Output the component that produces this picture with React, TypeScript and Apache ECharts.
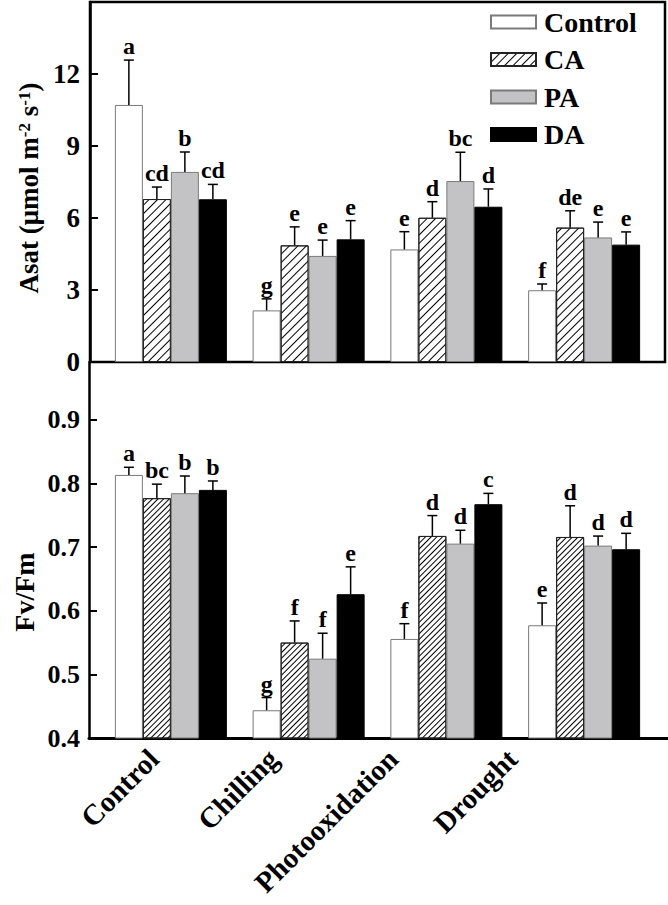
import React, { useEffect, useRef } from 'react';
import * as echarts from 'echarts';

const categories = ['Control', 'Chilling', 'Photooxidation', 'Drought'];
const seriesNames = ['Control', 'CA', 'PA', 'DA'];

// Asat (top panel)
const asatControl = [10.71, 2.15, 4.69, 2.99];
const asatCA = [6.79, 4.86, 6.01, 5.6];
const asatPA = [7.92, 4.42, 7.54, 5.19];
const asatDA = [6.78, 5.11, 6.47, 4.89];
const asatErrControl = [1.87, 0.48, 0.74, 0.26];
const asatErrCA = [0.5, 0.77, 0.67, 0.7];
const asatErrPA = [0.83, 0.66, 1.2, 0.64];
const asatErrDA = [0.62, 0.78, 0.74, 0.53];
const asatLetControl = ['a', 'g', 'e', 'f'];
const asatLetCA = ['cd', 'e', 'd', 'de'];
const asatLetPA = ['b', 'e', 'bc', 'e'];
const asatLetDA = ['cd', 'e', 'd', 'e'];

// Fv/Fm (bottom panel)
const fvControl = [0.8135, 0.4436, 0.5557, 0.5772];
const fvCA = [0.777, 0.55, 0.7176, 0.716];
const fvPA = [0.7848, 0.5247, 0.7055, 0.7024];
const fvDA = [0.79, 0.626, 0.7675, 0.6967];
const fvErrControl = [0.012, 0.02, 0.024, 0.035];
const fvErrCA = [0.022, 0.034, 0.032, 0.049];
const fvErrPA = [0.027, 0.04, 0.021, 0.015];
const fvErrDA = [0.014, 0.043, 0.017, 0.025];
const fvLetControl = ['a', 'g', 'f', 'e'];
const fvLetCA = ['bc', 'f', 'd', 'd'];
const fvLetPA = ['b', 'f', 'd', 'd'];
const fvLetDA = ['b', 'e', 'c', 'd'];

const asatAxis = { min: 0, max: 15, interval: 3 };
const fvAxis = { min: 0.4, max: 0.991, interval: 0.1 };

const FONT = '"Liberation Serif", "Times New Roman", serif';
const BAR_W = 28;

const fills = ['#ffffff', '#ffffff', '#c3c3c5', '#000000'];
const borders = ['#7a7a7a', '#222222', '#7a7a7a', '#000000'];

function hatch(gap: number) {
  return {
    symbol: 'rect',
    symbolSize: 1,
    color: '#000',
    dashArrayX: [1, 0],
    dashArrayY: [0.9, gap],
    rotation: -Math.PI / 4,
  };
}

function barSeries(values: number[][], axisIdx: number, gap: number) {
  return values.map((v, s) => ({
    type: 'bar',
    name: seriesNames[s],
    xAxisIndex: axisIdx,
    yAxisIndex: axisIdx,
    data: v,
    barWidth: BAR_W,
    barGap: '0%',
    silent: true,
    itemStyle: {
      color: fills[s],
      borderColor: borders[s],
      borderWidth: 1,
      decal: s === 1 ? hatch(gap) : undefined,
    },
  }));
}

function errSeries(means: number[][], errs: number[][], letters: string[][], axisIdx: number) {
  const data: number[][] = [];
  for (let s = 0; s < 4; s++) {
    for (let c = 0; c < 4; c++) {
      data.push([c, means[s][c], means[s][c] + errs[s][c], s]);
    }
  }
  return {
    type: 'custom',
    xAxisIndex: axisIdx,
    yAxisIndex: axisIdx,
    z: 10,
    silent: true,
    clip: false,
    encode: { x: 0, y: [1, 2] },
    data,
    renderItem: (params: any, api: any) => {
      const c = api.value(0);
      const mean = api.value(1);
      const top = api.value(2);
      const s = api.value(3);
      const p0 = api.coord([c, mean]);
      const p1 = api.coord([c, top]);
      const x = p0[0] + (s - 1.5) * BAR_W;
      return {
        type: 'group',
        children: [
          { type: 'line', shape: { x1: x, y1: p0[1], x2: x, y2: p1[1] }, style: { stroke: '#000', lineWidth: 1.5 } },
          { type: 'line', shape: { x1: x - 5, y1: p1[1], x2: x + 5, y2: p1[1] }, style: { stroke: '#000', lineWidth: 1.5 } },
          {
            type: 'text',
            x,
            y: p1[1] - 2,
            style: {
              text: letters[s][c],
              align: 'center',
              verticalAlign: 'bottom',
              font: `bold 24px ${FONT}`,
              fill: '#000',
            },
          },
        ],
      };
    },
  };
}

export default function App() {
  const ref = useRef<HTMLDivElement>(null);
  useEffect(() => {
    if (!ref.current) return;
    const chart = echarts.init(ref.current, undefined, { renderer: 'svg' });
    const tickLabel = { color: '#000', fontFamily: FONT, fontWeight: 'bold', fontSize: 26 };
    const hiddenCat = { type: 'category', data: categories, show: false };
    const hiddenVal = (ax: any) => ({ type: 'value', ...ax, show: false, splitLine: { show: false } });
    chart.setOption({
      animation: false,
      backgroundColor: '#fff',
      grid: [
        { left: 90, top: 2, width: 575, height: 360, show: true, borderColor: '#000', borderWidth: 2.5, backgroundColor: 'transparent' },
        { left: 102, top: 2, width: 551, height: 360 },
        { left: 89, top: 362, width: 600, height: 376 },
        { left: 102, top: 362, width: 551, height: 376 },
        { left: 94, top: 362, width: 478, height: 376 },
      ],
      xAxis: [
        { ...hiddenCat, gridIndex: 0 },
        { ...hiddenCat, gridIndex: 1 },
        {
          type: 'category', data: categories, gridIndex: 2,
          axisLine: { show: true, onZero: false, lineStyle: { color: '#000', width: 3 } },
          axisTick: { show: false }, axisLabel: { show: false },
        },
        { ...hiddenCat, gridIndex: 3 },
        {
          type: 'category', data: categories, gridIndex: 4,
          axisLine: { show: false }, axisTick: { show: false },
          axisLabel: { ...tickLabel, fontSize: 29, rotate: 45, margin: 16, interval: 0 },
        },
      ],
      yAxis: [
        {
          type: 'value', gridIndex: 0, ...asatAxis,
          axisLine: { show: true, lineStyle: { color: '#000', width: 2.5 } },
          axisTick: { show: true, inside: true, length: 8, lineStyle: { color: '#000', width: 2 } },
          axisLabel: { ...tickLabel, fontSize: 27, margin: 10, showMaxLabel: false },
          splitLine: { show: false },
        },
        { ...hiddenVal(asatAxis), gridIndex: 1 },
        {
          type: 'value', gridIndex: 2, ...fvAxis,
          axisLine: { show: true, lineStyle: { color: '#000', width: 2.5 } },
          axisTick: { show: true, inside: true, length: 8, lineStyle: { color: '#000', width: 2 } },
          axisLabel: { ...tickLabel, margin: 9, showMaxLabel: false, formatter: (v: number) => v.toFixed(1) },
          splitLine: { show: false },
        },
        { ...hiddenVal(fvAxis), gridIndex: 3 },
        { type: 'value', gridIndex: 4, show: false, splitLine: { show: false } },
      ],
      legend: {
        data: seriesNames,
        orient: 'vertical',
        left: 490,
        top: 8,
        padding: 0,
        itemWidth: 45,
        itemHeight: 13,
        itemGap: 9.5,
        icon: 'rect',
        selectedMode: false,
        textStyle: { color: '#000', fontFamily: FONT, fontWeight: 'bold', fontSize: 28, padding: [0, 0, 0, 3], lineHeight: 25 },
      },
      graphic: [
        {
          type: 'text',
          x: 29,
          y: 188,
          rotation: Math.PI / 2,
          style: {
            text: 'Asat (μmol m{sup|-2} s{sup|-1})',
            font: `bold 27px ${FONT}`,
            fill: '#000',
            align: 'center',
            verticalAlign: 'middle',
            rich: {
              sup: { fontSize: 17, fontWeight: 'bold', fontFamily: FONT, verticalAlign: 'top', fill: '#000' },
            },
          },
        },
        {
          type: 'text',
          x: 24,
          y: 592,
          rotation: Math.PI / 2,
          style: {
            text: 'Fv/Fm',
            font: `bold 28px ${FONT}`,
            fill: '#000',
            align: 'center',
            verticalAlign: 'middle',
          },
        },
      ],
      series: [
        ...barSeries([asatControl, asatCA, asatPA, asatDA], 1, 5),
        errSeries(
          [asatControl, asatCA, asatPA, asatDA],
          [asatErrControl, asatErrCA, asatErrPA, asatErrDA],
          [asatLetControl, asatLetCA, asatLetPA, asatLetDA],
          1
        ),
        ...barSeries([fvControl, fvCA, fvPA, fvDA], 3, 2.3),
        errSeries(
          [fvControl, fvCA, fvPA, fvDA],
          [fvErrControl, fvErrCA, fvErrPA, fvErrDA],
          [fvLetControl, fvLetCA, fvLetPA, fvLetDA],
          3
        ),
      ],
    });
    return () => chart.dispose();
  }, []);
  return <div ref={ref} style={{ position: 'fixed', left: 0, top: 0, width: 668, height: 905, background: '#fff' }} />;
}
